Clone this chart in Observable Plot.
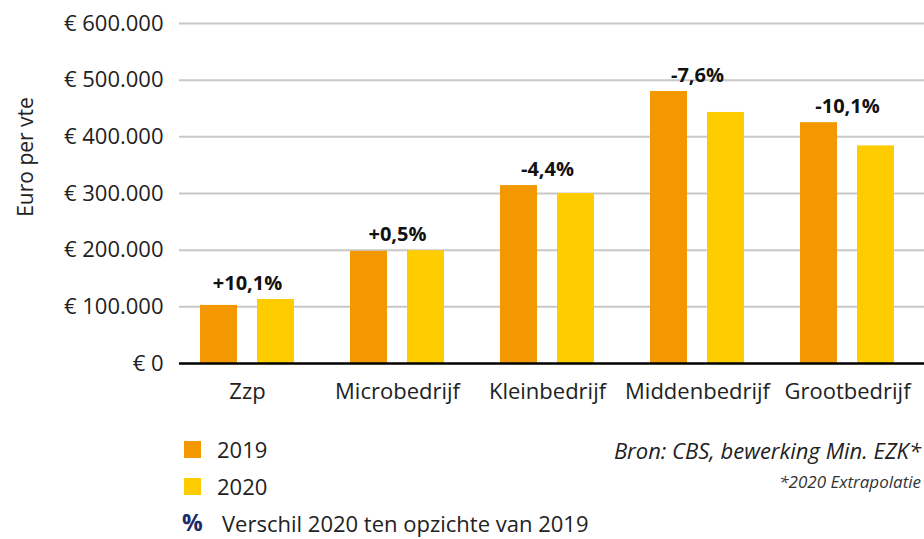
<!DOCTYPE html>
<html><head><meta charset="utf-8">
<script src="https://cdn.jsdelivr.net/npm/d3@7"></script>
<script src="https://cdn.jsdelivr.net/npm/@observablehq/plot@0.6"></script>
<style>
body{margin:0;background:#fff;font-family:"Open Sans","Noto Sans",sans-serif;font-weight:400;color:#222;}
#wrap{position:relative;width:924px;height:539px;overflow:hidden;}
.lg{position:absolute;font-size:22px;line-height:1;white-space:nowrap;}
.sw{position:absolute;width:17px;height:17px;}
</style></head><body>
<div id="wrap"></div>
<script>
const categories = ["Zzp","Microbedrijf","Kleinbedrijf","Middenbedrijf","Grootbedrijf"];
const years = ["2019","2020"];
const values2019 = [102500, 198000, 314000, 480000, 425000];
const values2020 = [112900, 199000, 300000, 443000, 384000];
const changeLabels = ["+10,1%","+0,5%","-4,4%","-7,6%","-10,1%"];
const yTicks = [0,100000,200000,300000,400000,500000,600000];
const colors = {"2019":"#f39800","2020":"#ffcc00"};

const d2019 = categories.map((c,i)=>({cat:c, year:"2019", v:values2019[i]}));
const d2020 = categories.map((c,i)=>({cat:c, year:"2020", v:values2020[i]}));
const dLab = categories.map((c,i)=>({cat:c, v:Math.max(values2019[i],values2020[i]), lab:changeLabels[i]}));

const loc = d3.formatLocale({decimal:",", thousands:".", grouping:[3], currency:["€ ",""]});
const fmt = d => "€ " + loc.format(",")(d);

const chart = Plot.plot({
  width: 924, height: 420,
  marginLeft: 170, marginRight: 0, marginTop: 23, marginBottom: 57,
  style: {fontFamily: "'Open Sans', 'Noto Sans', sans-serif", fontSize: "22px", color: "#222", background: "#fff"},
  x: {domain: categories, padding: 0, label: null, tickSize: 0, tickPadding: 20},
  y: {domain: [0,600000], ticks: yTicks, tickFormat: fmt, label: null, tickSize: 0, tickPadding: 7},
  marks: [
    Plot.ruleY(yTicks.slice(1), {stroke: "#c8c8c8", strokeWidth: 2, insetLeft: 9}),
    Plot.barY(d2019, {x: "cat", y: "v", fill: colors["2019"], insetLeft: 28, insetRight: 85}),
    Plot.barY(d2020, {x: "cat", y: "v", fill: colors["2020"], insetLeft: 85, insetRight: 28}),
    Plot.ruleY([0], {stroke: "#000", strokeWidth: 2.5, insetLeft: 9}),
    Plot.text(dLab, {x: "cat", y: "v", text: "lab", dy: -16, fontWeight: "bold", fontSize: 20, fill: "#111"})
  ]
});
const wrap = document.getElementById("wrap");
wrap.appendChild(chart);
d3.select(chart).append("text")
  .attr("transform","translate(27,157) rotate(-90)")
  .attr("text-anchor","middle").attr("dominant-baseline","middle")
  .attr("fill","#222").style("font-size","21px").text("Euro per vte");

const legend = [
  {kind:"sw", color: colors["2019"], label: years[0], y: 450},
  {kind:"sw", color: colors["2020"], label: years[1], y: 487},
  {kind:"pct", label: "Verschil 2020 ten opzichte van 2019", y: 524}
];
legend.forEach(l=>{
  if(l.kind==="sw"){
    const s=document.createElement("div");s.className="sw";
    s.style.left="184px";s.style.top=(l.y-9)+"px";s.style.background=l.color;wrap.appendChild(s);
    const t=document.createElement("div");t.className="lg";t.textContent=l.label;
    t.style.left="217px";t.style.top=(l.y-12)+"px";wrap.appendChild(t);
  } else {
    const s=document.createElement("div");s.className="lg";s.textContent="%";
    s.style.left="182px";s.style.top=(l.y-13)+"px";s.style.fontWeight="bold";s.style.color="#1b2a6b";s.style.fontSize="23px";wrap.appendChild(s);
    const t=document.createElement("div");t.className="lg";t.textContent=l.label;
    t.style.left="222px";t.style.top=(l.y-12)+"px";wrap.appendChild(t);
  }
});
const src=document.createElement("div");src.className="lg";src.textContent="Bron: CBS, bewerking Min. EZK*";
src.style.right="3px";src.style.top="439px";src.style.fontStyle="italic";wrap.appendChild(src);
const note=document.createElement("div");note.className="lg";note.textContent="*2020 Extrapolatie";
note.style.right="3px";note.style.top="473px";note.style.fontStyle="italic";note.style.fontSize="17px";note.style.color="#333";wrap.appendChild(note);
</script>
</body></html>
